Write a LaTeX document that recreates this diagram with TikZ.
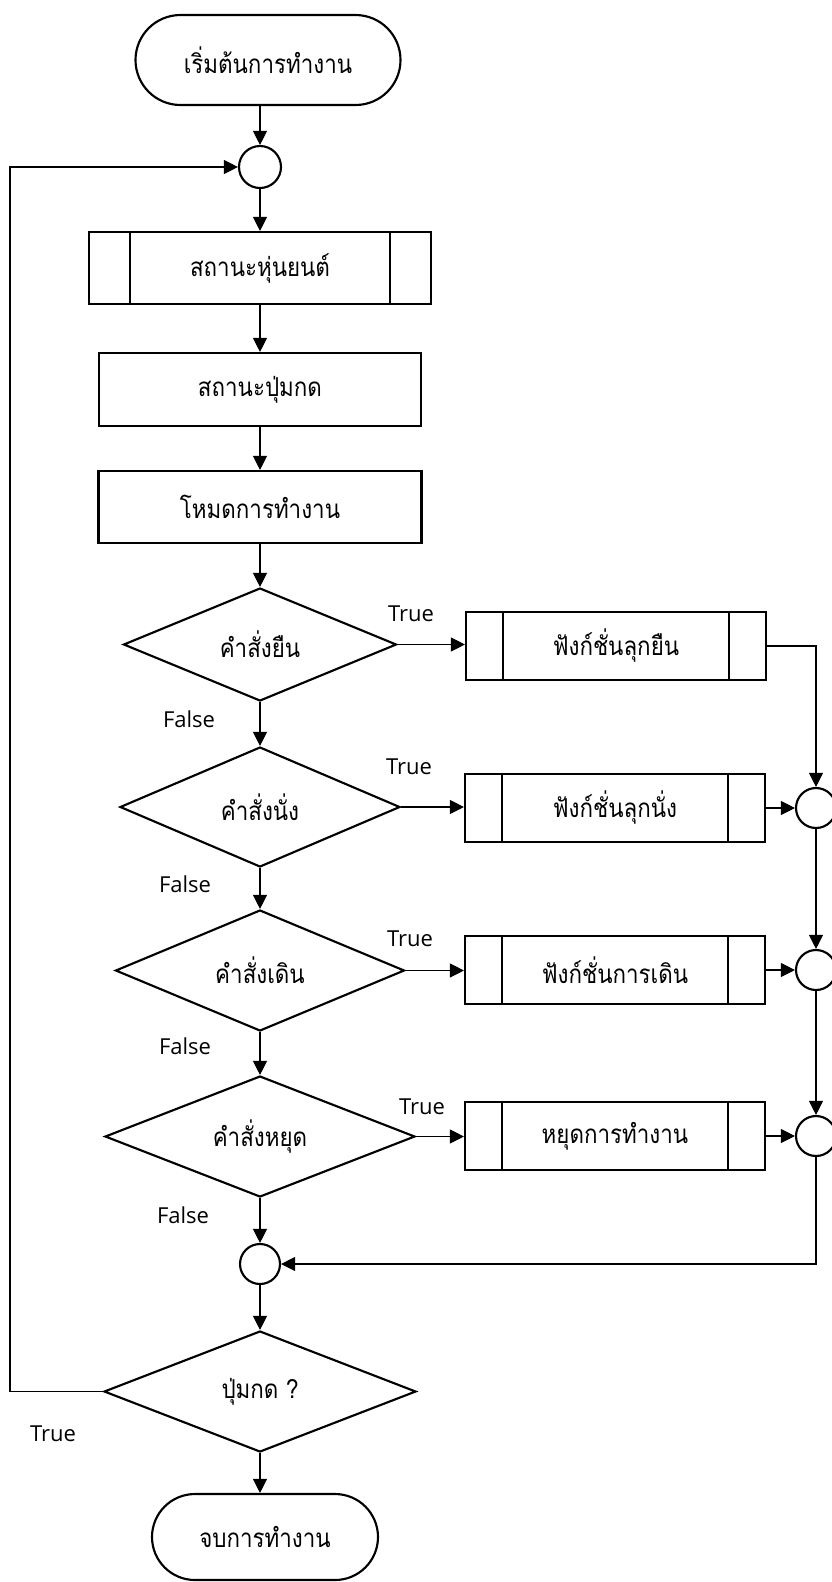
\documentclass[tikz,border=0pt]{standalone}
\usepackage{fontspec}
\setmainfont{Open Sans}
\newfontfamily\thaifont[Script=Thai, FakeStretch=0.86]{Loma}
\newcommand\thaitext{\thaifont\fontsize{19.5}{22}\selectfont}
\usetikzlibrary{arrows.meta, shapes.geometric, shapes.misc}

\begin{document}
\begin{tikzpicture}[x=0.75pt, y=-0.75pt, >={Triangle[length=10.5pt, width=10.5pt]},
    base/.style={draw, line width=1.6pt, inner sep=0pt, font=\thaitext},
    term/.style={base, rounded rectangle},
    proc/.style={base, rectangle},
    sub/.style={base, rectangle, minimum width=225pt, minimum height=51pt},
    decide/.style={base, diamond, aspect=2.5},
    junct/.style={base, circle, minimum size=30pt},
    flow/.style={->, line width=0.8pt},
    lbl/.style={font=\fontsize{16.5}{18}\selectfont}]

    % --- 1. Frame (picture size in px) ---
    \useasboundingbox (0,0) rectangle (832,1582);
    \def\cx{260} % x of the main column
    \def\rx{816} % x of the right-hand joins

    % --- 2. Main column ---
    \node[term, minimum width=198.75pt, minimum height=67.5pt] (start) at (268,60) {เริ่มต้นการทำงาน};
    \node[junct, minimum size=31.5pt] (j0) at (\cx,167) {};
    \node[proc, minimum width=256.5pt, minimum height=54pt] (robot) at (\cx,268) {สถานะหุ่นยนต์};
    \node[proc, minimum width=241.5pt, minimum height=54.75pt] (button) at (\cx,389.5) {สถานะปุ่มกด};
    \node[proc, minimum width=242.25pt, minimum height=54pt] (mode) at (\cx,507) {โหมดการทำงาน};

    % decisions
    \node[decide, minimum width=204.75pt, minimum height=84.75pt] (d1) at (\cx,644.5) {คำสั่งยืน};
    \node[decide, minimum width=210pt, minimum height=90pt] (d2) at (\cx,807) {คำสั่งนั่ง};
    \node[decide, minimum width=216.75pt, minimum height=90.75pt] (d3) at (\cx,970.5) {คำสั่งเดิน};
    \node[decide, minimum width=232.5pt, minimum height=90.75pt] (d4) at (\cx,1136.5) {คำสั่งหยุด};

    \node[junct] (j1) at (\cx,1264) {};
    \node[decide, minimum width=234pt, minimum height=90.75pt] (dbtn) at (\cx,1391.5) {ปุ่มกด ?};
    \node[term, minimum width=169.5pt, minimum height=64.5pt] (stop) at (265,1537) {จบการทำงาน};

    % --- 3. Right column (functions and joins) ---
    \node[sub] (f1) at (616,646) {ฟังก์ชั่นลุกยืน};
    \node[sub] (f2) at (615,808) {ฟังก์ชั่นลุกนั่ง};
    \node[sub] (f3) at (615,970) {ฟังก์ชั่นการเดิน};
    \node[sub] (f4) at (615,1136) {หยุดการทำงาน};

    \node[junct] (c1) at (\rx,808) {};
    \node[junct] (c2) at (\rx,970) {};
    \node[junct] (c3) at (\rx,1136) {};

    % side bars of the subroutine boxes
    \foreach \b/\g in {robot/31.5pt, f1/28.5pt, f2/28.5pt, f3/28.5pt, f4/28.5pt} {
        \draw[line width=1.6pt] ([xshift=\g]\b.north west) -- ([xshift=\g]\b.south west);
        \draw[line width=1.6pt] ([xshift=-\g]\b.north east) -- ([xshift=-\g]\b.south east);
    }

    % --- 4. Connectors ---
    \draw[flow] (j0 |- start.south) -- (j0);
    \draw[flow] (j0) -- (robot);
    \draw[flow] (robot) -- (button);
    \draw[flow] (button) -- (mode);
    \draw[flow] (mode) -- (d1);
    \draw[flow] (d1) -- (d2);
    \draw[flow] (d2) -- (d3);
    \draw[flow] (d3) -- (d4);
    \draw[flow] (d4) -- (j1);
    \draw[flow] (j1) -- (dbtn);
    \draw[flow] (dbtn.south) -- (dbtn.south |- stop.north);

    % true branches
    \foreach \i in {1,...,4}
        \draw[flow] (d\i.east) -- (f\i.west |- d\i.east);

    \draw[flow] (f1.east) -| (c1.north);
    \draw[flow] (f2.east) -- (c1.west);
    \draw[flow] (f3.east) -- (c2.west);
    \draw[flow] (f4.east) -- (c3.west);
    \draw[flow] (c1) -- (c2);
    \draw[flow] (c2) -- (c3);
    \draw[flow] (c3.south) |- (j1.east);

    % loop back
    \coordinate (back) at (10,1391.5);
    \draw[flow] (dbtn.west) -- (back) |- (j0.west);

    % --- 5. Labels ---
    \node[lbl] (t1) at (411,614) {True};
    \node[lbl] (t2) at (409,767) {True};
    \node[lbl] (t3) at (410,939) {True};
    \node[lbl] (t4) at (422,1107) {True};
    \node[lbl] (t5) at (53,1434) {True};

    \node[lbl] (n1) at (189,719) {False};
    \node[lbl] (n2) at (185,884) {False};
    \node[lbl] (n3) at (185,1046) {False};
    \node[lbl] (n4) at (183,1215) {False};

\end{tikzpicture}
\end{document}
